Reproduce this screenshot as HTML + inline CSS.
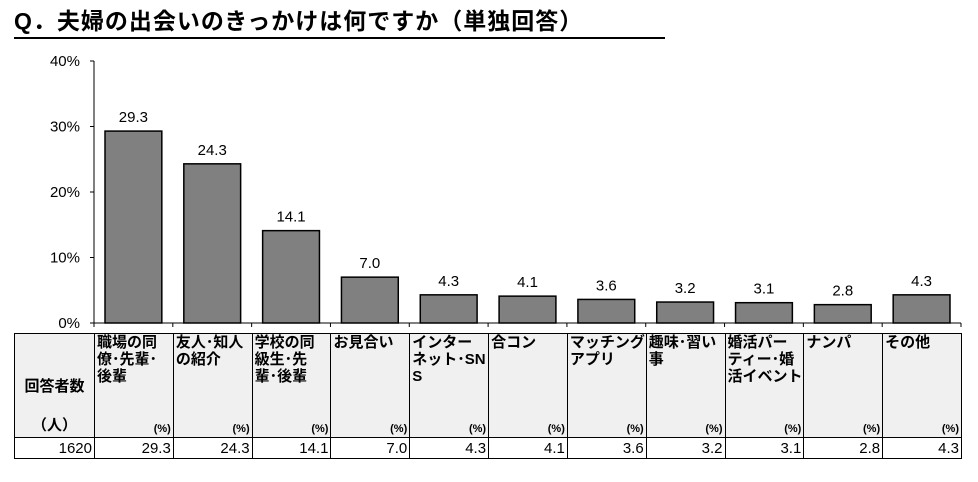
<!DOCTYPE html>
<html><head><meta charset="utf-8"><style>
body{margin:0;width:978px;height:482px;background:#fff;font-family:"Liberation Sans","Noto Sans CJK JP",sans-serif;position:relative;overflow:hidden}
#title{position:absolute;left:14px;top:6px;width:651px;font-size:23px;font-weight:bold;border-bottom:2px solid #000;height:31px;line-height:31px;white-space:nowrap;letter-spacing:1px}
table{position:absolute;left:14px;top:333px;border-collapse:collapse;font-size:15px;font-weight:bold;table-layout:fixed;width:948px}
td{border:1px solid #000;padding:0 2px;vertical-align:top;overflow:hidden}
.h td{background:#f0f0f0;height:103px;position:relative;border-left:1px dotted #000}
.h td.f{border-left:1px solid #000}
.pc{position:absolute;right:2px;bottom:2px;font-size:11px}
.d td{height:20px;text-align:right;font-size:15px;font-weight:normal;vertical-align:middle;border-left:1px dotted #000}
</style></head><body>
<div id="title">Q．夫婦の出会いのきっかけは何ですか（単独回答）</div>
<svg id="chart" width="978" height="335" style="position:absolute;left:0;top:0"></svg>
<table>
<colgroup id="cg"><col style="width:80px"></colgroup>
<tr class="h" id="hrow"><td class="f" style="text-align:center;vertical-align:middle">回答者数<div style="position:absolute;bottom:2px;left:0;width:100%;text-align:center">（人）</div></td></tr>
<tr class="d" id="drow"><td style="border-left:1px solid #000">1620</td></tr>
</table>
<script>
const categories=["職場の同|僚･先輩･|後輩","友人･知人|の紹介","学校の同|級生･先|輩･後輩","お見合い","インター|ネット･SN|S","合コン","マッチング|アプリ","趣味･習い|事","婚活パー|ティー･婚|活イベント","ナンパ","その他"];
const values=[29.3,24.3,14.1,7.0,4.3,4.1,3.6,3.2,3.1,2.8,4.3];
const yTicks=[0,10,20,30,40];
const NS="http://www.w3.org/2000/svg";
const svg=document.getElementById('chart');
const x0=94,x1=961,y0=323,yTop=61,n=categories.length,cw=(x1-x0)/n;
const y=v=>y0-(v/40)*(y0-yTop);
function mk(t,a){const e=document.createElementNS(NS,t);for(const k in a)e.setAttribute(k,a[k]);svg.appendChild(e);return e;}
let ax=mk('line',{x1:x0,y1:yTop,x2:x0,y2:y0,stroke:'#000'});


let bx=mk('line',{x1:x0,y1:y0,x2:x1,y2:y0,stroke:'#000'});


yTicks.forEach(t=>{
 mk('line',{x1:x0-4,y1:y(t),x2:x0,y2:y(t),stroke:'#000'});
 const tx=mk('text',{x:x0-14,y:y(t)+5,'text-anchor':'end','font-size':15,'font-family':'Liberation Sans'});
 tx.textContent=t+'%';
 
 
});
for(let i=0;i<=n;i++)mk('line',{x1:x0+i*cw,y1:y0,x2:x0+i*cw,y2:y0+4,stroke:'#000'});
const hrow=document.getElementById('hrow'),drow=document.getElementById('drow'),cg=document.getElementById('cg');
values.forEach((v,i)=>{
 const bx0=x0+i*cw+11,bw=cw-22;
 const r=mk('rect',{x:bx0,y:y(v),width:bw,height:y0-y(v),fill:'#808080',stroke:'#000','stroke-width':1.5});
 
 
 const t=mk('text',{x:bx0+bw/2,y:y(v)-9,'text-anchor':'middle','font-size':15,'font-family':'Liberation Sans'});
 t.textContent=v.toFixed(1);
 
 
 const c=document.createElement('col');
 c.style.width=cw+'px';
 cg.appendChild(c);
 const h=document.createElement('td');
 h.innerHTML='<div style="line-height:17px;white-space:nowrap">'+categories[i].split('|').join('<br>')+'</div><span class="pc">(%)</span>';
 
 
 hrow.appendChild(h);
 const d=document.createElement('td');
 d.textContent=v.toFixed(1);
 
 
 drow.appendChild(d);
});
</script>
</body></html>
